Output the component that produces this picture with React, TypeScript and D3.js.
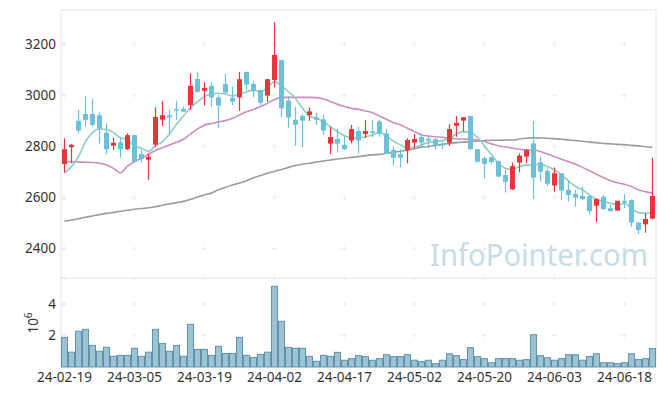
import React, { useEffect, useRef } from 'react';
import * as d3 from 'd3';

// trading days, 2024-02-19 .. 2024-06-24
const dates = [
  '2024-02-19', '2024-02-20', '2024-02-21', '2024-02-22', '2024-02-23', '2024-02-26', '2024-02-27', '2024-02-28', '2024-02-29',
  '2024-03-04', '2024-03-05', '2024-03-06', '2024-03-07', '2024-03-08', '2024-03-11', '2024-03-12', '2024-03-13', '2024-03-14',
  '2024-03-15', '2024-03-18', '2024-03-19', '2024-03-20', '2024-03-21', '2024-03-22', '2024-03-25', '2024-03-26', '2024-03-27',
  '2024-03-28', '2024-03-29', '2024-04-01', '2024-04-02', '2024-04-03', '2024-04-04', '2024-04-05', '2024-04-08', '2024-04-09',
  '2024-04-11', '2024-04-12', '2024-04-15', '2024-04-16', '2024-04-17', '2024-04-18', '2024-04-19', '2024-04-22', '2024-04-23',
  '2024-04-24', '2024-04-25', '2024-04-26', '2024-04-29', '2024-04-30', '2024-05-02', '2024-05-03', '2024-05-07', '2024-05-08',
  '2024-05-09', '2024-05-10', '2024-05-13', '2024-05-14', '2024-05-16', '2024-05-17', '2024-05-20', '2024-05-21', '2024-05-22',
  '2024-05-23', '2024-05-24', '2024-05-27', '2024-05-28', '2024-05-29', '2024-05-30', '2024-05-31', '2024-06-03', '2024-06-04',
  '2024-06-05', '2024-06-07', '2024-06-10', '2024-06-11', '2024-06-12', '2024-06-13', '2024-06-14', '2024-06-17', '2024-06-18',
  '2024-06-19', '2024-06-20', '2024-06-21', '2024-06-24',
];

const open = [
  2731, 2797, 2900, 2927, 2927, 2922, 2853, 2803, 2816, 2789, 2844, 2770, 2748, 2807, 2905, 2922, 2947, 2947, 2962, 3064,
  3018, 3037, 2992, 3044, 2990, 2992, 3091, 3044, 3020, 2999, 3060, 3138, 2979, 2904, 2919, 2923, 2914, 2906, 2811, 2829,
  2806, 2823, 2860, 2849, 2859, 2898, 2851, 2786, 2770, 2784, 2815, 2837, 2830, 2828, 2810, 2815, 2881, 2901, 2919, 2789,
  2754, 2757, 2742, 2688, 2632, 2737, 2760, 2812, 2738, 2704, 2647, 2695, 2630, 2614, 2606, 2606, 2568, 2603, 2558, 2549,
  2587, 2590, 2502, 2495, 2517,
];
const high = [
  2832, 2810, 2943, 2997, 2988, 2934, 2890, 2834, 2832, 2851, 2846, 2786, 2773, 2953, 2978, 2943, 2979, 2956, 3086, 3091,
  3050, 3052, 3001, 3084, 3034, 3091, 3093, 3054, 3022, 3064, 3286, 3140, 2997, 2956, 2927, 2953, 2932, 2926, 2877, 2868,
  2845, 2884, 2877, 2904, 2904, 2904, 2868, 2799, 2789, 2832, 2849, 2851, 2841, 2832, 2819, 2887, 2919, 2915, 2920, 2790,
  2760, 2760, 2744, 2708, 2737, 2773, 2789, 2900, 2760, 2714, 2718, 2696, 2669, 2630, 2643, 2607, 2597, 2610, 2571, 2588,
  2614, 2592, 2503, 2538, 2756,
];
const low = [
  2697, 2734, 2851, 2877, 2877, 2812, 2770, 2786, 2756, 2786, 2738, 2737, 2669, 2797, 2880, 2849, 2904, 2936, 2943, 3010,
  2960, 2956, 2871, 3008, 2962, 2939, 3021, 2992, 2962, 2975, 3031, 2914, 2871, 2803, 2797, 2900, 2884, 2845, 2770, 2776,
  2786, 2812, 2773, 2833, 2836, 2838, 2770, 2725, 2718, 2734, 2793, 2797, 2793, 2789, 2789, 2802, 2838, 2858, 2787, 2737,
  2675, 2731, 2680, 2620, 2630, 2699, 2734, 2594, 2662, 2645, 2623, 2590, 2584, 2564, 2590, 2534, 2503, 2551, 2545, 2547,
  2558, 2486, 2457, 2462, 2515,
];
const close = [
  2789, 2806, 2862, 2904, 2884, 2870, 2789, 2814, 2789, 2844, 2740, 2751, 2759, 2915, 2922, 2914, 2944, 2936, 3037, 3014,
  3029, 2992, 2960, 3011, 2975, 3063, 3042, 3016, 2971, 3063, 3158, 2949, 2913, 2885, 2901, 2937, 2904, 2862, 2837, 2811,
  2790, 2868, 2823, 2860, 2857, 2851, 2773, 2756, 2756, 2825, 2829, 2815, 2823, 2803, 2806, 2868, 2892, 2914, 2789, 2740,
  2731, 2739, 2682, 2662, 2723, 2764, 2786, 2678, 2701, 2654, 2695, 2627, 2610, 2600, 2594, 2547, 2594, 2555, 2547, 2587,
  2581, 2502, 2473, 2516, 2606,
];

// volume, millions of shares
const volume = [
  1.88, 0.94, 2.27, 2.39, 1.37, 1.0, 1.25, 0.68, 0.74, 0.74, 1.19, 0.68, 0.94, 2.39, 1.5, 1.0, 1.37, 0.68, 2.71, 1.12,
  1.12, 0.74, 1.31, 0.86, 0.86, 1.88, 0.74, 0.61, 0.8, 0.94, 5.12, 2.9, 1.25, 1.19, 1.19, 0.68, 0.36, 0.74, 0.68, 0.93,
  0.43, 0.53, 0.72, 0.66, 0.43, 0.53, 0.78, 0.66, 0.66, 0.78, 0.43, 0.34, 0.43, 0.21, 0.43, 0.84, 0.72, 0.47, 1.23, 0.66,
  0.53, 0.27, 0.53, 0.53, 0.53, 0.43, 0.47, 2.05, 0.72, 0.59, 0.43, 0.53, 0.78, 0.78, 0.43, 0.66, 0.84, 0.27, 0.27, 0.21,
  0.27, 0.84, 0.47, 0.53, 1.17,
];

const ma5 = [
  2697, 2721, 2760, 2819, 2854, 2868, 2867, 2854, 2834, 2825, 2802, 2793, 2780, 2802, 2819, 2849, 2887, 2919, 2952, 2975,
  2995, 3005, 3008, 3005, 2997, 3005, 3014, 3021, 3014, 3031, 3054, 3037, 3014, 2988, 2949, 2919, 2910, 2897, 2877, 2858,
  2842, 2834, 2832, 2838, 2845, 2854, 2841, 2821, 2806, 2795, 2797, 2806, 2815, 2819, 2823, 2832, 2849, 2858, 2854, 2836,
  2802, 2767, 2734, 2714, 2710, 2721, 2727, 2727, 2731, 2721, 2708, 2688, 2665, 2643, 2630, 2610, 2593, 2584, 2577, 2573,
  2577, 2558, 2541, 2538, 2542,
];
const ma20 = [
  2740, 2740, 2739, 2738, 2737, 2734, 2727, 2714, 2697, 2723, 2740, 2754, 2769, 2784, 2795, 2806, 2816, 2828, 2849, 2868,
  2884, 2890, 2896, 2901, 2910, 2923, 2936, 2945, 2956, 2969, 2984, 2992, 2992, 2992, 2992, 2992, 2991, 2986, 2975, 2965,
  2956, 2949, 2945, 2939, 2932, 2919, 2906, 2893, 2884, 2871, 2858, 2845, 2841, 2838, 2836, 2832, 2830, 2829, 2828, 2825,
  2819, 2810, 2802, 2798, 2793, 2789, 2786, 2786, 2780, 2770, 2760, 2750, 2740, 2730, 2718, 2705, 2691, 2678, 2666, 2658,
  2652, 2643, 2630, 2623, 2617,
];
const ma60 = [
  2508, 2512, 2517, 2523, 2528, 2533, 2538, 2542, 2546, 2550, 2554, 2557, 2560, 2564, 2570, 2575, 2580, 2585, 2593, 2602,
  2610, 2618, 2630, 2640, 2649, 2657, 2666, 2677, 2686, 2695, 2703, 2710, 2718, 2725, 2730, 2734, 2739, 2743, 2747, 2751,
  2754, 2757, 2760, 2764, 2767, 2769, 2773, 2777, 2781, 2786, 2791, 2797, 2800, 2804, 2808, 2812, 2815, 2817, 2819, 2821,
  2823, 2824, 2824, 2825, 2825, 2829, 2832, 2834, 2833, 2832, 2830, 2828, 2825, 2823, 2820, 2817, 2815, 2812, 2810, 2808,
  2807, 2804, 2802, 2799, 2797,
];

const priceTicks = [2400, 2600, 2800, 3000, 3200];
const volumeTicks = [2, 4];

const W = 665;
const H = 396;

const App: React.FC = () => {
  const ref = useRef<SVGSVGElement | null>(null);

  useEffect(() => {
    if (!ref.current) return;
    const svg = d3.select(ref.current);
    svg.selectAll('*').remove();

    const left = 61;
    const right = 656;
    const top = 10;
    const mid = 278;
    const bottom = 367;
    const font = '"Noto Sans", "Open Sans", sans-serif';

    const idx = dates.map((_, i) => i);
    const x = d3.scaleBand<number>().domain(idx).range([left, right]).padding(0);
    const cx = (i: number) => (x(i) as number) + x.bandwidth() / 2;
    const y = d3.scaleLinear().domain([2285, 3334]).range([mid, top]);
    const yv = d3.scaleLinear().domain([0, 5.65]).range([bottom, mid]);

    const xTicks = idx.filter((i) => i % 10 === 0);

    // frame
    const frame = svg.append('g').attr('stroke', '#e4e4e4').attr('fill', 'none');
    frame.append('rect').attr('x', left).attr('y', top).attr('width', right - left).attr('height', mid - top);
    frame.append('line').attr('x1', left).attr('x2', left).attr('y1', mid).attr('y2', bottom);
    frame.append('line').attr('x1', right).attr('x2', right).attr('y1', mid).attr('y2', bottom);

    // grid crosses (very faint)
    const crosses = svg.append('g').attr('stroke', '#ececec').attr('stroke-width', 1);
    const cross = (px: number, py: number) => {
      crosses.append('line').attr('x1', px - 2.5).attr('x2', px + 2.5).attr('y1', py).attr('y2', py);
      crosses.append('line').attr('x1', px).attr('x2', px).attr('y1', py - 2.5).attr('y2', py + 2.5);
    };
    xTicks.forEach((i) => {
      priceTicks.forEach((t) => cross(cx(i), y(t)));
      volumeTicks.forEach((t) => cross(cx(i), yv(t)));
      cross(cx(i), mid);
    });
    priceTicks.forEach((t) => cross(left + 2, y(t)));
    volumeTicks.forEach((t) => cross(left + 2, yv(t)));

    // watermark
    svg
      .append('text')
      .attr('x', 648)
      .attr('y', 266)
      .attr('text-anchor', 'end')
      .attr('font-family', font)
      .attr('font-size', 30)
      .attr('textLength', 218)
      .attr('lengthAdjust', 'spacingAndGlyphs')
      .attr('fill', '#c8dce7')
      .text('InfoPointer.com');

    // moving averages
    const line = d3
      .line<number>()
      .x((_, i) => cx(i))
      .y((d) => y(d))
      .curve(d3.curveMonotoneX);
    const maSeries: [number[], string][] = [
      [ma60, '#9a9a9a'],
      [ma20, '#cc8cc2'],
      [ma5, '#8ccfc2'],
    ];
    maSeries.forEach(([data, color]) => {
      svg
        .append('path')
        .datum(data)
        .attr('fill', 'none')
        .attr('stroke', color)
        .attr('stroke-width', 1.6)
        .attr('d', line);
    });

    // candles
    const up = '#e8343a';
    const down = '#6cc0d8';
    const bw = 5;
    const candles = svg.append('g');
    idx.forEach((i) => {
      const color = close[i] >= open[i] ? up : down;
      const c = cx(i);
      candles
        .append('line')
        .attr('x1', c)
        .attr('x2', c)
        .attr('y1', y(high[i]))
        .attr('y2', y(low[i]))
        .attr('stroke', color)
        .attr('stroke-width', 1.2);
      const y0 = y(Math.max(open[i], close[i]));
      const y1 = y(Math.min(open[i], close[i]));
      candles
        .append('rect')
        .attr('x', c - bw / 2)
        .attr('y', y0)
        .attr('width', bw)
        .attr('height', Math.max(1.5, y1 - y0))
        .attr('fill', color);
    });

    // volume bars
    svg
      .append('g')
      .selectAll('rect')
      .data(volume)
      .join('rect')
      .attr('x', (_, i) => (x(i) as number) + 0.5)
      .attr('y', (d) => yv(d))
      .attr('width', x.bandwidth() - 1)
      .attr('height', (d) => bottom - yv(d))
      .attr('fill', '#9cc2d3')
      .attr('stroke', '#5d93ab')
      .attr('stroke-width', 1);

    // axis labels
    const labels = svg.append('g').attr('font-family', font).attr('font-size', 13.5).attr('fill', '#333');
    priceTicks.forEach((t) => {
      labels
        .append('text')
        .attr('x', 56)
        .attr('y', y(t))
        .attr('dy', '0.35em')
        .attr('text-anchor', 'end')
        .text(t);
    });
    volumeTicks.forEach((t) => {
      labels
        .append('text')
        .attr('x', 56)
        .attr('y', yv(t))
        .attr('dy', '0.35em')
        .attr('text-anchor', 'end')
        .text(t);
    });
    xTicks.forEach((i) => {
      labels
        .append('text')
        .attr('x', cx(i))
        .attr('y', 382)
        .attr('text-anchor', 'middle')
        .text(dates[i].slice(2));
    });

    // exponent label for volume axis
    const exp = labels
      .append('text')
      .attr('transform', 'translate(38,323) rotate(-90)')
      .attr('text-anchor', 'middle');
    exp.append('tspan').text('10');
    exp.append('tspan').attr('dy', -6).attr('font-size', 10).text('6');
  }, []);

  return (
    <svg
      ref={ref}
      width={W}
      height={H}
      style={{ position: 'absolute', left: 0, top: 0, background: '#fff' }}
    />
  );
};

export default App;
